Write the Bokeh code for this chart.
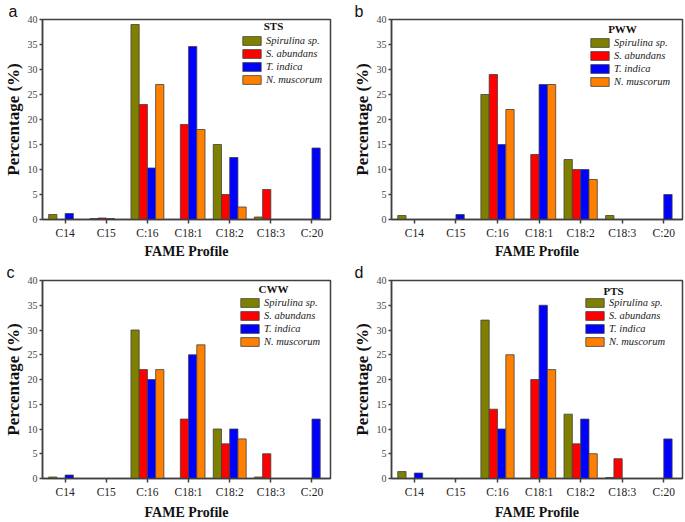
from bokeh.plotting import figure
from bokeh.layouts import row, column
from bokeh.models import Legend, LegendItem, Label, FixedTicker, Range1d
from bokeh.embed import file_html
from bokeh.resources import INLINE

categories = ["C14", "C15", "C:16", "C18:1", "C18:2", "C18:3", "C:20"]
species = ["Spirulina sp.", "S. abundans", "T. indica", "N. muscorum"]
colors = ["#808000", "#FF0000", "#0000FF", "#FF8000"]
y_ticks = [0, 5, 10, 15, 20, 25, 30, 35, 40]

# Panel a: STS
sts_spirulina = [1.0, 0.2, 39.0, 0.0, 15.0, 0.5, 0.0]
sts_abundans = [0.0, 0.3, 23.0, 19.0, 5.0, 6.0, 0.0]
sts_indica = [1.2, 0.2, 10.3, 34.6, 12.4, 0.0, 14.3]
sts_muscorum = [0.0, 0.0, 27.0, 18.0, 2.5, 0.0, 0.0]

# Panel b: PWW
pww_spirulina = [0.8, 0.0, 25.0, 0.0, 12.0, 0.8, 0.0]
pww_abundans = [0.0, 0.0, 29.0, 13.0, 10.0, 0.0, 0.0]
pww_indica = [0.0, 1.0, 15.0, 27.0, 10.0, 0.0, 5.0]
pww_muscorum = [0.0, 0.0, 22.0, 27.0, 8.0, 0.0, 0.0]

# Panel c: CWW
cww_spirulina = [0.3, 0.0, 30.0, 0.0, 10.0, 0.3, 0.0]
cww_abundans = [0.0, 0.0, 22.0, 12.0, 7.0, 5.0, 0.0]
cww_indica = [0.7, 0.0, 20.0, 25.0, 10.0, 0.0, 12.0]
cww_muscorum = [0.0, 0.0, 22.0, 27.0, 8.0, 0.0, 0.0]

# Panel d: PTS
pts_spirulina = [1.4, 0.0, 32.0, 0.0, 13.0, 0.2, 0.0]
pts_abundans = [0.0, 0.0, 14.0, 20.0, 7.0, 4.0, 0.0]
pts_indica = [1.1, 0.0, 10.0, 35.0, 12.0, 0.0, 8.0]
pts_muscorum = [0.0, 0.0, 25.0, 22.0, 5.0, 0.0, 0.0]

SERIF = "Liberation Serif"
EDGE = "#404040"
BAR_W = 0.2


def make_panel(letter, name, series, width, height, bl, br, bt, bb,
               leg_xy, title_xy, letter_off, xlab_standoff):
    p = figure(width=width, height=height, output_backend="svg",
               toolbar_location=None, min_border_left=bl, min_border_right=br,
               min_border_top=bt, min_border_bottom=bb,
               x_range=Range1d(-0.55, 6.45), y_range=Range1d(0, 40))
    p.title.text = letter
    p.title.text_font = "Liberation Sans"
    p.title.text_font_style = "normal"
    p.title.text_font_size = "16px"
    p.title.text_color = "#111"
    p.title.align = "left"
    p.title.offset = letter_off
    p.title.standoff = 0
    p.xgrid.visible = False
    p.ygrid.visible = False
    p.outline_line_color = EDGE
    p.outline_line_width = 1.5
    p.background_fill_color = "white"
    p.border_fill_color = "white"

    items = []
    n = len(series)
    for k, (vals, nm, col) in enumerate(zip(series, species, colors)):
        off = (k - (n - 1) / 2) * BAR_W
        xs = [i + off for i, v in enumerate(vals) if v > 0]
        tops = [v for v in vals if v > 0]
        r = p.vbar(x=xs, top=tops, bottom=0, width=BAR_W, fill_color=col,
                   line_color=EDGE, line_width=0.8)
        items.append(LegendItem(label=nm, renderers=[r]))

    leg = Legend(items=items, location=leg_xy, padding=0, margin=0, spacing=0,
                 glyph_width=23, glyph_height=11, label_height=13,
                 label_standoff=3, label_text_font=SERIF,
                 label_text_font_style="italic", label_text_font_size="10.5px",
                 label_text_color="#222", background_fill_alpha=0,
                 border_line_alpha=0)
    p.add_layout(leg)

    p.add_layout(Label(x=title_xy[0], y=title_xy[1], x_units="screen",
                       y_units="screen", text=name, text_font=SERIF,
                       text_font_style="bold", text_font_size="11px",
                       text_align="center", text_baseline="middle",
                       text_color="#111"))

    for ax in (p.xaxis[0], p.yaxis[0]):
        ax.axis_line_color = EDGE
        ax.axis_line_width = 1.5
        ax.major_tick_line_color = EDGE
        ax.major_tick_line_width = 1.5
        ax.major_tick_in = 0
        ax.major_tick_out = 4
        ax.minor_tick_line_color = None
        ax.axis_label_text_font = SERIF
        ax.axis_label_text_font_style = "bold"
        ax.axis_label_text_color = "#111"
        ax.major_label_text_font = SERIF

    p.xaxis.ticker = FixedTicker(ticks=list(range(len(categories))))
    p.xaxis.major_label_overrides = {i: c for i, c in enumerate(categories)}
    p.xaxis.major_label_text_font_size = "11.5px"
    p.xaxis.major_label_text_color = "#222"
    p.xaxis.major_label_standoff = 3
    p.xaxis.axis_label = "FAME Profile"
    p.xaxis.axis_label_text_font_size = "14px"
    p.xaxis.axis_label_standoff = xlab_standoff

    p.yaxis.ticker = FixedTicker(ticks=y_ticks)
    p.yaxis.major_tick_out = 3
    p.yaxis.major_label_text_font_size = "10px"
    p.yaxis.major_label_text_color = "#444"
    p.yaxis.major_label_standoff = 2
    p.yaxis.axis_label = "Percentage (%)"
    p.yaxis.axis_label_text_font_size = "17px"
    p.yaxis.axis_label_standoff = 2
    return p


pa = make_panel("a", "STS", [sts_spirulina, sts_abundans, sts_indica, sts_muscorum],
                342, 261, 39, 12, 17, 41, (198, 133), (231, 194), -34, 2)
pb = make_panel("b", "PWW", [pww_spirulina, pww_abundans, pww_indica, pww_muscorum],
                343, 261, 49, 3, 17, 41, (197, 131), (231, 191), -37, 2)
pc = make_panel("c", "CWW", [cww_spirulina, cww_abundans, cww_indica, cww_muscorum],
                342, 261, 39, 12, 18, 41, (196, 130), (231, 190), -36, 4)
pd = make_panel("d", "PTS", [pts_spirulina, pts_abundans, pts_indica, pts_muscorum],
                343, 261, 49, 3, 18, 41, (192, 130), (222, 188), -37, 4)

layout = column(row(pa, pb), row(pc, pd))
open("out.html", "w").write(file_html(layout, INLINE))
